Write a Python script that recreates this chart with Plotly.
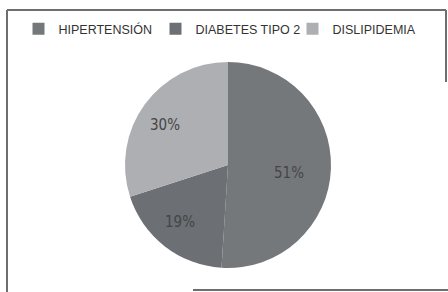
import math
import plotly.graph_objects as go

categories = ["HIPERTENSIÓN", "DIABETES TIPO 2", "DISLIPIDEMIA"]
values = [51, 19, 30]
colors = ["#75787b", "#6c6f73", "#adafb2"]

W, H = 448, 292
cx, cy, R = 228, 165, 103  # pie centre / radius in px (layout only)

fig = go.Figure(go.Pie(
    labels=categories,
    values=values,
    sort=False,
    direction="clockwise",
    rotation=0,
    marker=dict(colors=colors, line=dict(width=0)),
    textinfo="none",
    domain=dict(x=[(cx - R) / W, (cx + R) / W], y=[1 - (cy + R) / H, 1 - (cy - R) / H]),
    hoverinfo="label+percent",
))

# percentage labels placed at slice mid-angles computed from the data
total = sum(values)
annotations = []
acc = 0
for v in values:
    mid = (acc + v / 2) / total * 2 * math.pi
    acc += v
    r = 0.76 * R
    x = cx + r * math.sin(mid)
    y = cy - r * math.cos(mid) + 6
    annotations.append(dict(
        x=x / W, y=1 - y / H, xref="paper", yref="paper",
        text=f"{round(v / total * 100)}%", showarrow=False,
        font=dict(family="Liberation Sans Narrow, DejaVu Sans Condensed, sans-serif", size=15, color="#454545"),
    ))

line_col = "#6e6e6e"
shapes = [
    dict(type="line", x0=7, x1=7, y0=10, y1=H),
    dict(type="line", x0=7, x1=446, y0=10, y1=10),
    dict(type="line", x0=446, x1=446, y0=10, y1=82),
    dict(type="line", x0=193, x1=W, y0=290, y1=290),
]
for s in shapes:
    s.update(xref="paper", yref="paper",
             x0=s["x0"] / W, x1=s["x1"] / W, y0=1 - s["y0"] / H, y1=1 - s["y1"] / H,
             line=dict(color=line_col, width=2))

fig.update_layout(
    width=W, height=H,
    margin=dict(l=0, r=0, t=0, b=0),
    annotations=annotations,
    shapes=shapes,
    legend=dict(
        orientation="h",
        x=0.5, xanchor="center",
        y=1 - 14 / H, yanchor="top",
        font=dict(family="Liberation Sans, Arial, sans-serif", size=12.5, color="#333333"),
        itemwidth=30,
        entrywidth=92,
        entrywidthmode="pixels",
        bgcolor="rgba(255,255,255,0)",
    ),
)

fig.write_html(
    "out.html",
    config={"displayModeBar": False},
    post_script="document.body.style.margin='0';document.body.style.overflow='hidden';",
)
